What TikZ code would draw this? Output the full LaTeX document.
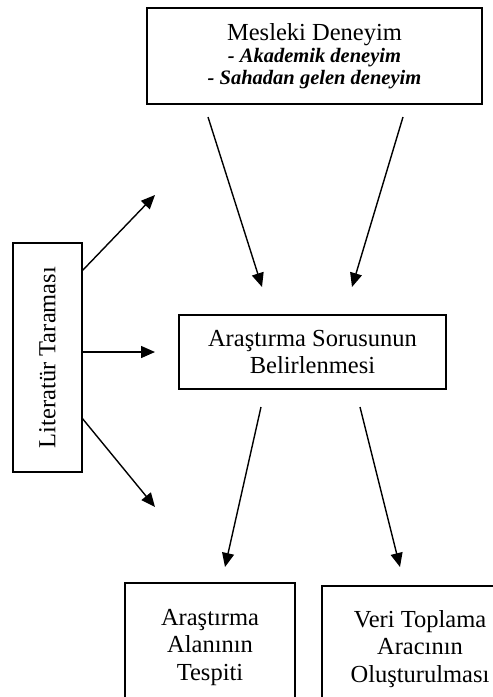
\documentclass[tikz,border=0pt]{standalone}
\usepackage{fontspec}
\setmainfont{Liberation Serif}
\usetikzlibrary{arrows.meta}

\tikzset{
    box/.style={draw, line width=1.5pt, align=center, inner sep=0pt,
        font=\fontsize{24.5}{27.5}\selectfont},
    arr/.style={-{Triangle[length=14pt, width=12pt]}, line width=1.4pt},
}
\newcommand{\subline}[1]{{\fontsize{20.5}{21}\selectfont\bfseries\itshape #1}}

\begin{document}
\begin{tikzpicture}[x=1pt, y=-1pt]
    \useasboundingbox (0,0) rectangle (493,697);
    \clip (0,0) rectangle (493,697);

    % boxes
    \node[box, minimum width=335pt, minimum height=96pt] (deneyim) at (314.5,56)
        {Mesleki Deneyim\\[-5pt] \subline{- Akademik deneyim}\\[-6pt] \subline{- Sahadan gelen deneyim}};
    \node[box, rotate=90, minimum width=229pt, minimum height=69pt] (literatur) at (47.5,357.5)
        {Literatür Taraması};
    \node[box, minimum width=267pt, minimum height=74pt] (soru) at (312.5,352)
        {Araştırma Sorusunun\\ Belirlenmesi};
    \node[box, minimum width=170pt, minimum height=129pt] (alan) at (210,647.5)
        {Araştırma\\ Alanının\\ Tespiti};
    \node[box, minimum width=196pt, minimum height=126pt] (arac) at (420,649)
        {Veri Toplama\\ Aracının\\ Oluşturulması};

    % arrow ends
    \coordinate (d1) at (208,117);
    \coordinate (d2) at (403,117);
    \coordinate (s1) at (262,287);
    \coordinate (s2) at (352,287);
    \coordinate (l1) at (82,271);
    \coordinate (l2) at (82,352);
    \coordinate (l3) at (82,418);
    \coordinate (t1) at (155,195);
    \coordinate (t2) at (155,352);
    \coordinate (t3) at (155,507);
    \coordinate (b1) at (261,407);
    \coordinate (b2) at (360,407);
    \coordinate (e1) at (225,567);
    \coordinate (e2) at (400,567);

    \draw[arr] (d1) -- (s1);
    \draw[arr] (d2) -- (s2);
    \draw[arr] (l1) -- (t1);
    \draw[arr] (l2) -- (t2);
    \draw[arr] (l3) -- (t3);
    \draw[arr] (b1) -- (e1);
    \draw[arr] (b2) -- (e2);
\end{tikzpicture}
\end{document}
